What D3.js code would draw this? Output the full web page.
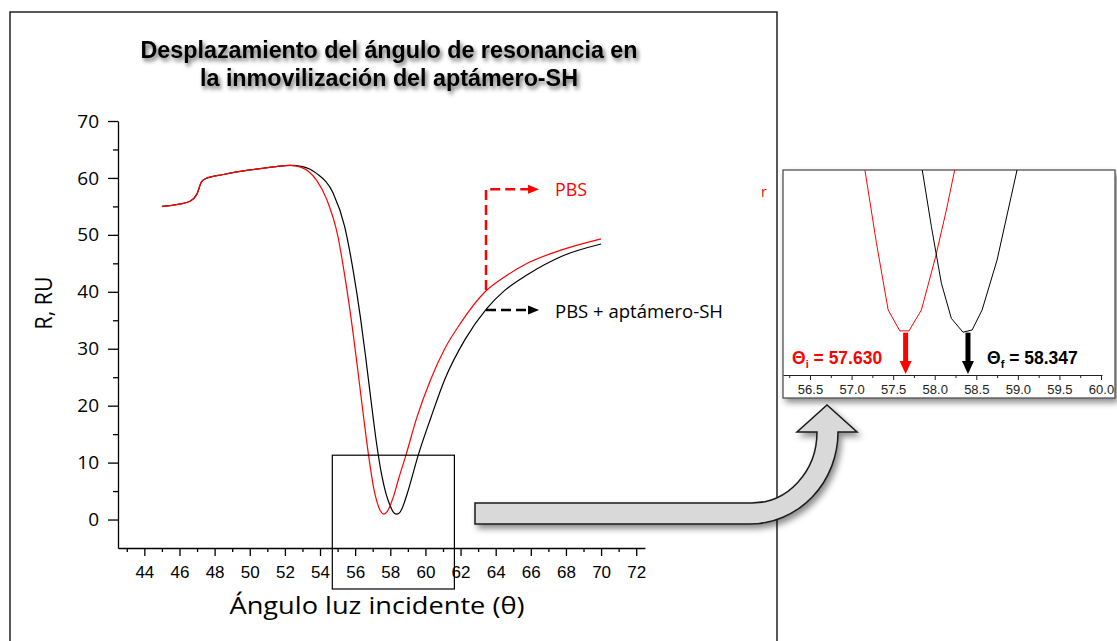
<!DOCTYPE html>
<html><head><meta charset="utf-8">
<script src="https://cdn.jsdelivr.net/npm/d3@7"></script>
<style>body{margin:0;background:#fff;} svg{display:block;}</style>
</head><body>
<svg id="c" width="1117" height="641"></svg>
<script>
// ---------- data ----------
const seriesNames = ["PBS", "PBS + aptámero-SH"];
const pbsAngle = [45.0,46.0,46.6,47.0,47.25,47.5,48.5,50.0,51.5,52.3,52.9,53.4,53.8,54.4,55.0,55.45,55.85,56.2,56.5,56.8,57.05,57.25,57.44,57.63,57.82,58.0,58.2,58.45,58.9,59.5,60.3,61.1,62.0,63.4,64.5,65.8,67.8,70.0];
const pbsR     = [55.0,55.4,55.9,57.2,59.3,59.9,60.6,61.4,62.0,62.2,61.9,61.0,59.6,56.1,50.0,42.0,33.5,25.0,17.5,10.5,5.6,3.0,1.5,0.95,1.4,2.5,4.2,6.9,11.4,17.8,24.6,30.0,34.5,40.0,42.6,45.0,47.4,49.3];
const aptAngle = [45.0,46.0,46.6,47.0,47.25,47.5,48.5,50.0,51.5,52.3,53.0,53.8,54.75,55.4,55.9,56.3,56.6,56.9,57.2,57.5,57.75,57.96,58.15,58.34,58.5,58.65,58.8,59.0,59.6,60.3,61.1,62.25,63.5,64.5,65.8,67.8,70.0];
const aptR     = [55.0,55.4,55.9,57.2,59.3,59.9,60.6,61.4,62.0,62.2,62.0,60.8,57.3,51.5,43.5,35.5,28.5,21.0,13.8,8.0,4.6,2.7,1.4,0.95,1.1,1.8,3.0,4.9,11.4,17.8,24.6,31.6,37.1,40.2,43.0,46.3,48.4];
// zoomed inset (polyline of the minima)
const zoomPbsAngle = [57.16,57.30,57.44,57.58,57.69,57.84,58.01,58.14,58.24];
const zoomPbsR     = [4.6,2.95,1.46,0.99,0.99,1.46,2.65,3.70,4.6];
const zoomAptAngle = [57.85,57.96,58.08,58.20,58.34,58.45,58.57,58.75,58.99];
const zoomAptR     = [4.6,3.33,2.06,1.27,0.96,1.01,1.46,2.58,4.6];
// ticks
const xTickLabels = [44,46,48,50,52,54,56,58,60,62,64,66,68,70,72];
const xMinorTicks = [43,45,47,49,51,53,55,57,59,61,63,65,67,69,71];
const yTickLabels = [0,10,20,30,40,50,60,70];
const yMinorTicks = [5,15,25,35,45,55,65];
const zoomTickLabels = [56.5,57.0,57.5,58.0,58.5,59.0,59.5,60.0];
const zoomMinorTicks = [56.25,56.75,57.25,57.75,58.25,58.75,59.25,59.75];
// resonance angles
const resonanceSub = ["i","f"];
const resonanceText = ["57.630","58.347"];
const resonanceArrowAt = [57.65, 58.40];
const titleLines = ["Desplazamiento del ángulo de resonancia en","la inmovilización  del aptámero-SH"];

// ---------- drawing ----------
const svg = d3.select("#c");
const defs = svg.append("defs");
const sh = defs.append("filter").attr("id","shadow").attr("x","-20%").attr("y","-20%").attr("width","150%").attr("height","160%");
sh.append("feDropShadow").attr("dx",3).attr("dy",4).attr("stdDeviation",3).attr("flood-color","#000").attr("flood-opacity",0.45);
const tsh = defs.append("filter").attr("id","tshadow").attr("x","-10%").attr("y","-30%").attr("width","120%").attr("height","180%");
tsh.append("feDropShadow").attr("dx",2).attr("dy",3).attr("stdDeviation",2.2).attr("flood-color","#000").attr("flood-opacity",0.6);

svg.append("rect").attr("width",1117).attr("height",641).attr("fill","#fff");

// outer frame
svg.append("path").attr("d","M10,645V12H777V645").attr("fill","none").attr("stroke","#222").attr("stroke-width",1.5);

// title
svg.selectAll("text.title").data(titleLines).join("text").attr("class","title")
  .attr("x",389).attr("y",(d,i)=>58+i*28).attr("text-anchor","middle")
  .attr("font-family","'Liberation Sans Narrow','Liberation Sans',Arial,sans-serif")
  .attr("font-weight","bold").attr("font-size",23.5).attr("fill","#000")
  .attr("textLength",(d,i)=>i===0?497:378).attr("lengthAdjust","spacingAndGlyphs")
  .attr("filter","url(#tshadow)").text(d=>d);

const x = d3.scaleLinear().domain([42.5,72.5]).range([118,645]);
const y = d3.scaleLinear().domain([-5,70]).range([548,121]);

// axes
const gx = svg.append("g").attr("transform","translate(0,548)")
  .call(d3.axisBottom(x).tickValues(xTickLabels).tickSize(8).tickSizeOuter(0).tickPadding(10).tickFormat(d3.format("d")));
svg.append("g").attr("transform","translate(0,548)")
  .call(d3.axisBottom(x).tickValues(xMinorTicks).tickSize(4).tickFormat(""))
  .call(g=>g.select(".domain").remove());
gx.selectAll("text").attr("font-family","'Liberation Sans',Arial,sans-serif").attr("font-size",17).attr("fill","#000");

const gy = svg.append("g").attr("transform","translate(118,0)")
  .call(d3.axisLeft(y).tickValues(yTickLabels).tickSize(10).tickSizeOuter(0).tickPadding(9));
svg.append("g").attr("transform","translate(118,0)")
  .call(d3.axisLeft(y).tickValues(yMinorTicks).tickSize(5).tickFormat(""))
  .call(g=>g.select(".domain").remove());
gy.selectAll("text").attr("font-family","'Open Sans',sans-serif").attr("font-size",19).attr("fill","#000");
svg.selectAll(".domain, .tick line").attr("stroke","#000").attr("stroke-width",1.3);

// axis titles
svg.append("text").attr("x",377).attr("y",614).attr("text-anchor","middle")
  .attr("font-family","'Open Sans',sans-serif").attr("font-size",24)
  .attr("textLength",295).attr("lengthAdjust","spacingAndGlyphs").text("Ángulo luz incidente (θ)");
svg.append("text").attr("transform","translate(52,303) rotate(-90)").attr("text-anchor","middle")
  .attr("font-family","'Open Sans',sans-serif").attr("font-size",24)
  .attr("textLength",53).attr("lengthAdjust","spacingAndGlyphs").text("R, RU");

// curves
const line = d3.line().x(d=>x(d[0])).y(d=>y(d[1])).curve(d3.curveMonotoneX);
svg.append("path").datum(aptAngle.map((a,i)=>[a,aptR[i]])).attr("d",line)
  .attr("fill","none").attr("stroke","#000").attr("stroke-width",1.2);
svg.append("path").datum(pbsAngle.map((a,i)=>[a,pbsR[i]])).attr("d",line)
  .attr("fill","none").attr("stroke","#ff0000").attr("stroke-width",1.2);

// zoom rectangle on main chart
svg.append("rect").attr("x",x(54.7)).attr("y",y(11.3)).attr("width",x(61.65)-x(54.7)).attr("height",y(-12.2)-y(11.3))
  .attr("fill","none").attr("stroke","#000").attr("stroke-width",1.2);

// legend annotations
function arrowHead(g, tipX, yy, color){
  g.append("path").attr("d",`M${tipX},${yy}L${tipX-11},${yy-4.5}L${tipX-11},${yy+4.5}Z`).attr("fill",color);
}
const ax0 = x(63.45);
svg.append("path").attr("d",`M${ax0},${y(40.3)}V${y(58)}H${x(66.0)}`)
  .attr("fill","none").attr("stroke","#ff0000").attr("stroke-width",2.5).attr("stroke-dasharray","10,5");
arrowHead(svg, x(66.47), y(58), "#ff0000");
svg.append("path").attr("d",`M${ax0},${y(36.8)}H${x(66.0)}`)
  .attr("fill","none").attr("stroke","#000").attr("stroke-width",2.5).attr("stroke-dasharray","10,5");
arrowHead(svg, x(66.47), y(36.8), "#000");
svg.append("text").attr("x",555).attr("y",y(58)+6.5).attr("font-family","'Open Sans',sans-serif").attr("font-size",18)
  .attr("fill","#ff0000").attr("textLength",32).attr("lengthAdjust","spacingAndGlyphs").text(seriesNames[0]);
svg.append("text").attr("x",555).attr("y",y(36.8)+7.5).attr("font-family","'Open Sans',sans-serif").attr("font-size",18)
  .attr("fill","#000").attr("textLength",168).attr("lengthAdjust","spacingAndGlyphs").text(seriesNames[1]);
svg.append("text").attr("x",761).attr("y",197).attr("font-family","'Open Sans',sans-serif").attr("font-size",14).attr("fill","#ff0000").text("r");

// curved block arrow
svg.append("path")
  .attr("d","M475,503H752A65,71 0 0 0 817,432H797L827,405L857,432H838A88,92 0 0 1 750,524H475Z")
  .attr("fill","#d9d9d9").attr("stroke","#1a1a1a").attr("stroke-width",1.5).attr("filter","url(#shadow)");

// inset
const inset = svg.append("g");
inset.append("rect").attr("x",783).attr("y",170).attr("width",332).attr("height",228)
  .attr("fill","#fff").attr("stroke","#444").attr("stroke-width",1.2).attr("filter","url(#shadow)");
const xi = d3.scaleLinear().domain([56.175,60.012]).range([783,1102]);
const yi = d3.scaleLinear().domain([0,4.6]).range([375,170]);
defs.append("clipPath").attr("id","iclip").append("rect").attr("x",783).attr("y",170).attr("width",332).attr("height",205);
const iline = d3.line().x(d=>xi(d[0])).y(d=>yi(d[1]));
const ic = inset.append("g").attr("clip-path","url(#iclip)");
ic.append("path").datum(zoomPbsAngle.map((a,i)=>[a,zoomPbsR[i]])).attr("d",iline)
  .attr("fill","none").attr("stroke","#ff0000").attr("stroke-width",1);
ic.append("path").datum(zoomAptAngle.map((a,i)=>[a,zoomAptR[i]])).attr("d",iline)
  .attr("fill","none").attr("stroke","#000").attr("stroke-width",1);

const gxi = inset.append("g").attr("transform","translate(0,375)")
  .call(d3.axisBottom(xi).tickValues(zoomTickLabels).tickSize(5).tickSizeOuter(0).tickPadding(5).tickFormat(d3.format(".1f")));
inset.append("g").attr("transform","translate(0,375)")
  .call(d3.axisBottom(xi).tickValues(zoomMinorTicks).tickSize(3).tickFormat(""))
  .call(g=>g.select(".domain").remove());
inset.selectAll(".domain, .tick line").attr("stroke","#222").attr("stroke-width",1);
gxi.selectAll("text").attr("font-family","'Liberation Sans',Arial,sans-serif").attr("font-size",13).attr("fill","#222");

// resonance arrows and labels
const colors = ["#ff0000","#000"];
resonanceArrowAt.forEach((v,i)=>{
  const cx = xi(v), top = yi(0.95);
  inset.append("rect").attr("x",cx-2.5).attr("y",top).attr("width",5).attr("height",362-top).attr("fill",colors[i]);
  inset.append("path").attr("d",`M${cx-6},361L${cx+6},361L${cx},374Z`).attr("fill",colors[i]);
  const t = inset.append("text").attr("x",i===0?792:987).attr("y",364)
    .attr("font-family","'Liberation Sans',Arial,sans-serif").attr("font-weight","bold").attr("font-size",17.5).attr("fill",colors[i]);
  t.append("tspan").text("Θ");
  t.append("tspan").attr("font-size",11).attr("dy",4).text(resonanceSub[i]);
  t.append("tspan").attr("dy",-4).text(" = " + resonanceText[i]);
});
</script>
</body></html>
